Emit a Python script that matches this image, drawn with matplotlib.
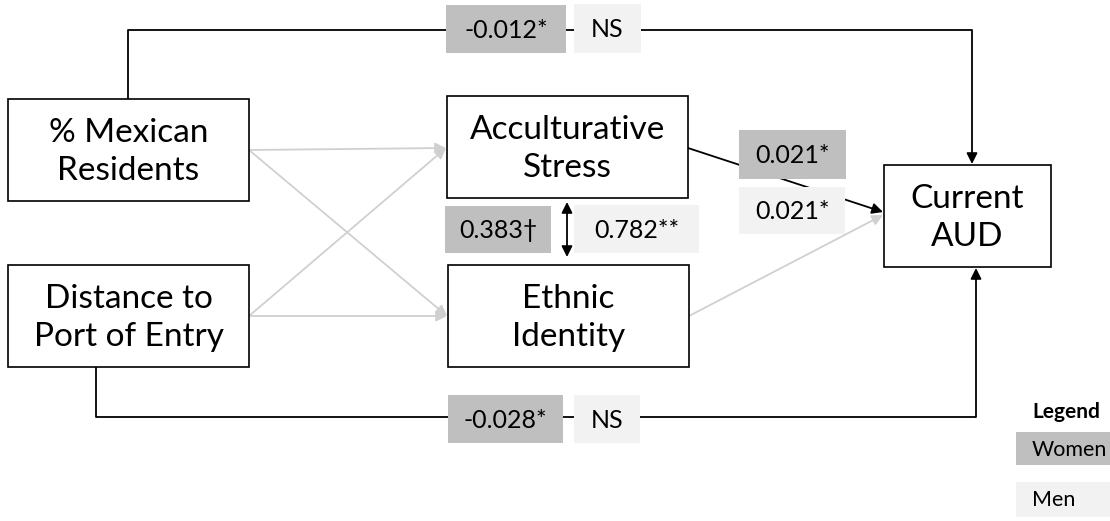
import matplotlib
matplotlib.use("Agg")
import matplotlib.pyplot as plt
from matplotlib.patches import Rectangle, FancyArrowPatch

plt.rcParams['font.family'] = ['Lato', 'DejaVu Sans']

# --- data ---
node_names = ["% Mexican\nResidents", "Distance to\nPort of Entry",
              "Acculturative\nStress", "Ethnic\nIdentity", "Current\nAUD"]
path_labels_women = ["-0.012*", "-0.028*", "0.383\u2020", "0.021*"]
path_labels_men = ["NS", "NS", "0.782**", "0.021*"]
legend_title = "Legend"
legend_labels = ["Women", "Men"]

WOMEN_C = "#bfbfbf"
MEN_C = "#f2f2f2"
GRAY_ARROW = "#d0d0d0"

W, H = 1110, 521
fig = plt.figure(figsize=(W / 100, H / 100), dpi=100)
ax = fig.add_axes([0, 0, 1, 1])
ax.set_xlim(0, W)
ax.set_ylim(H, 0)
ax.axis("off")

# node boxes (x0, y0, x1, y1) in layout coords
node_boxes = [(8, 99, 249, 201), (8, 265, 249, 367),
              (447, 96, 688, 198), (448, 265, 689, 367),
              (884, 165, 1051, 267)]
for name, (x0, y0, x1, y1) in zip(node_names, node_boxes):
    ax.add_patch(Rectangle((x0, y0), x1 - x0, y1 - y0, facecolor="white",
                           edgecolor="black", lw=1.2, zorder=3))
    ax.text((x0 + x1) / 2, (y0 + y1) / 2 + 2, name, ha="center", va="center",
            fontsize=24, linespacing=1.32, zorder=4)


def arrow(p0, p1, color, both=False, lw=1.3):
    a = FancyArrowPatch(p0, p1, arrowstyle="<|-|>" if both else "-|>",
                        mutation_scale=16, color=color, lw=lw,
                        shrinkA=0, shrinkB=0, zorder=2)
    ax.add_patch(a)


def polyline(xs, ys):
    ax.plot(xs, ys, color="black", lw=1.3, zorder=2, solid_capstyle="butt")


# gray paths
arrow((249, 150), (446, 148), GRAY_ARROW)
arrow((249, 150), (447, 316), GRAY_ARROW)
arrow((249, 316), (446, 148), GRAY_ARROW)
arrow((249, 316), (447, 316), GRAY_ARROW)
arrow((689, 316), (883, 215), GRAY_ARROW)

# black paths
arrow((688, 148), (883, 212), "black")
polyline([128, 128, 972], [99, 30, 30])
arrow((972, 30), (972, 164), "black")
polyline([96, 96, 976], [367, 417, 417])
arrow((976, 417), (976, 268), "black")
arrow((567, 202), (567, 257), "black", both=True)


def label_box(x0, y0, x1, y1, text, color, fs=18):
    ax.add_patch(Rectangle((x0, y0), x1 - x0, y1 - y0, facecolor=color,
                           edgecolor="none", zorder=5))
    ax.text((x0 + x1) / 2, (y0 + y1) / 2 + 1, text, ha="center", va="center",
            fontsize=fs, zorder=6)


women_boxes = [(446, 5, 566, 53), (448, 395, 563, 443),
               (445, 206, 551, 253), (739, 130, 846, 179)]
men_boxes = [(574, 4, 641, 53), (574, 395, 640, 443),
             (574, 205, 699, 253), (739, 187, 845, 234)]
for t, b in zip(path_labels_women, women_boxes):
    label_box(*b, t, WOMEN_C)
for t, b in zip(path_labels_men, men_boxes):
    label_box(*b, t, MEN_C)

# legend
ax.text(1066, 412, legend_title, ha="center", va="center", fontsize=15,
        fontweight="bold")
legend_boxes = [(1016, 432, 1110, 465), (1016, 482, 1110, 517)]
for t, c, (x0, y0, x1, y1) in zip(legend_labels, [WOMEN_C, MEN_C], legend_boxes):
    ax.add_patch(Rectangle((x0, y0), x1 - x0, y1 - y0, facecolor=c,
                           edgecolor="none", zorder=5))
    ax.text(x0 + 16, (y0 + y1) / 2 + 1, t, ha="left", va="center",
            fontsize=15.5, zorder=6)

fig.savefig("out.png", dpi=100)
